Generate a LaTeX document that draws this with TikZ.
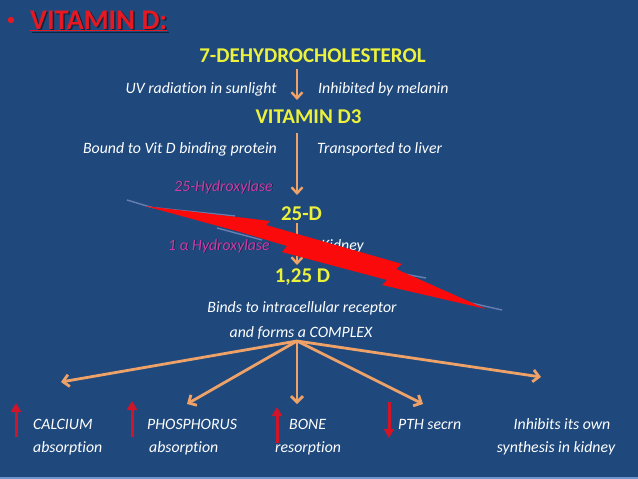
\documentclass[tikz,border=0pt]{standalone}
\usepackage{fontspec}
\setmainfont{Carlito}[Ligatures=NoCommon]
\usetikzlibrary{arrows.meta}
\definecolor{bg}{RGB}{31,73,125}
\definecolor{stripe}{RGB}{110,150,205}
\definecolor{yel}{RGB}{236,242,60}
\definecolor{oran}{RGB}{238,162,104}
\definecolor{rd}{RGB}{210,20,40}
\definecolor{ttl}{RGB}{230,25,35}
\definecolor{mag}{RGB}{205,60,170}
\definecolor{bolt}{RGB}{250,10,10}
\definecolor{glow}{RGB}{120,140,190}
\begin{document}
\begin{tikzpicture}[x=1pt,y=-1pt,
  ybold/.style={font=\fontsize{21}{25}\selectfont\bfseries, text=yel, inner sep=0pt},
  itext/.style={font=\fontsize{15.8}{19}\selectfont\itshape, text=white, inner sep=0pt},
  magtext/.style={itext, text=mag},
  shad/.style={itext, text=black, opacity=0.45},
  oarr/.style={draw=oran, line width=2.4pt, -{Straight Barb[length=6pt,width=11pt]}},
  fanarr/.style={draw=oran, line width=2.8pt, -{Straight Barb[length=6pt,width=12pt]}},
  rarr/.style={draw=rd, line width=3pt, -{Triangle[length=9pt,width=10pt]}},
  glowline/.style={draw=glow, line width=1.4pt, opacity=0.8}]
\fill[bg] (0,0) rectangle (638,479);
\fill[stripe] (0,476.5) rectangle (638,479);
\useasboundingbox (0,0) rectangle (638,479);

% title
\node[anchor=base west, inner sep=0pt, text=black, opacity=0.5, font=\fontsize{28.5}{32}\selectfont\bfseries] at (31.5,30.5) {\underline{VITAMIN D:}};
\node (title) [anchor=base west, inner sep=0pt, text=ttl, font=\fontsize{28.5}{32}\selectfont\bfseries] at (30,29) {\underline{VITAMIN D:}};
\fill[ttl] (11,20) circle (3.2pt);

% main chain
\node (dhc) [ybold, anchor=base] at (312.5,62) {7-DEHYDROCHOLESTEROL};
\node (uv) [itext, anchor=base east] at (277,93) {UV radiation in sunlight};
\node (mel) [itext, anchor=base west] at (318,93) {Inhibited by melanin};
\node (d3) [ybold, anchor=base] at (308.5,123) {VITAMIN D3};
\node (bound) [itext, anchor=base east] at (277,153) {Bound to Vit D binding protein};
\node (liver) [itext, anchor=base west] at (317,153) {Transported to liver};
\node[shad, anchor=base east] at (274,191.8) {25-Hydroxylase};
\node (hyd25) [magtext, anchor=base east] at (273,191) {25-Hydroxylase};
\node (d25) [ybold, anchor=base] at (301.5,220) {25-D};
\node[shad, anchor=base east] at (271,250.8) {1 α Hydroxylase};
\node (hyd1) [magtext, anchor=base east] at (270,250) {1 α Hydroxylase};
\node (kid) [itext, anchor=base east] at (364,250) {Kidney};
\node (d125) [ybold, anchor=base] at (302.5,282) {1,25 D};
\node (binds) [itext, anchor=base] at (302,312) {Binds to intracellular receptor};
\node (cplx) [itext, anchor=base] at (301,337) {and forms a COMPLEX};

% vertical arrows
\coordinate (a1s) at (297,69);  \coordinate (a1e) at (297,100);
\coordinate (a2s) at (297,133); \coordinate (a2e) at (297,195);
\coordinate (a3s) at (297,223); \coordinate (a3e) at (297,265);
\draw[oarr] (a1s) -- (a1e);
\draw[oarr] (a2s) -- (a2e);
\draw[oarr] (a3s) -- (a3e);

% fan arrows
\coordinate (fo) at (297,341);
\coordinate (f1) at (61,382);
\coordinate (f2) at (187,404);
\coordinate (f3) at (297,404);
\coordinate (f4) at (423,404);
\coordinate (f5) at (541,377);
\foreach \t in {f1,f2,f3,f4,f5} \draw[fanarr] (fo) -- (\t);

% bottom effects
\node (ca) [itext, anchor=base west] at (33,429) {CALCIUM};
\node (ca2) [itext, anchor=base west] at (33,452) {absorption};
\node (ph) [itext, anchor=base west] at (147,429) {PHOSPHORUS};
\node (ph2) [itext, anchor=base west] at (149,452) {absorption};
\node (bo) [itext, anchor=base west] at (289,429) {BONE};
\node (bo2) [itext, anchor=base west] at (275,452) {resorption};
\node (pth) [itext, anchor=base west] at (398,429) {PTH secrn};
\node (inh) [itext, anchor=base] at (562,429) {Inhibits its own};
\node (syn) [itext, anchor=base] at (556,452) {synthesis in kidney};

\coordinate (r1b) at (16,437);  \coordinate (r1t) at (16,403);
\coordinate (r2b) at (132,437); \coordinate (r2t) at (132,401);
\coordinate (r3b) at (277,443); \coordinate (r3t) at (277,407);
\coordinate (r4t) at (389,402); \coordinate (r4b) at (389,438);
\draw[rarr] (r1b) -- (r1t);
\draw[rarr] (r2b) -- (r2t);
\draw[rarr] (r3b) -- (r3t);
\draw[rarr] (r4t) -- (r4b);

% lightning bolt
\draw[glowline] (127,200) -- (152,207.5) -- (235,216);
\draw[glowline] (217,228) -- (262,240);
\draw[glowline] (320,246) -- (352,252);
\draw[glowline] (330,263) -- (372,269);
\draw[glowline] (393,272) -- (426,278);
\draw[glowline] (440,296) -- (502,310);
\fill[bolt] (145,206) -- (270,221) -- (266,225) -- (402,264) -- (396,269)
  -- (486,309) -- (382,285) -- (387,280) -- (282,252) -- (287,246)
  -- (240,232) -- cycle;
\end{tikzpicture}
\end{document}
